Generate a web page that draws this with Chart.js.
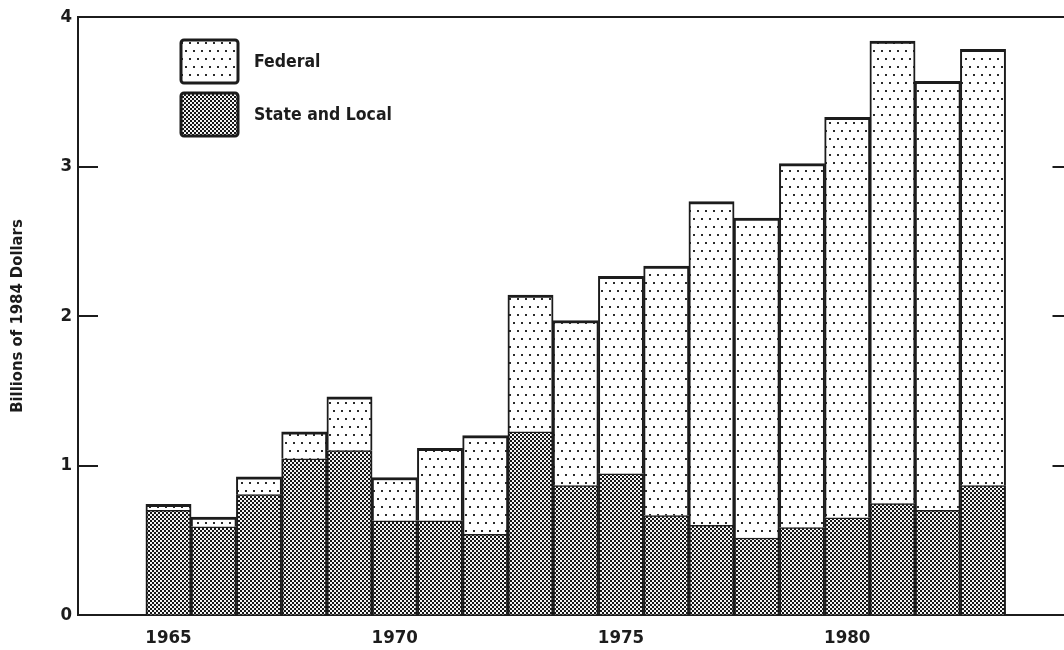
<!DOCTYPE html>
<html><head><meta charset="utf-8">
<script src="https://cdn.jsdelivr.net/npm/chart.js@4.4.1/dist/chart.umd.min.js"></script>
<style>
html,body{margin:0;padding:0;background:#fff;overflow:hidden;width:1064px;height:650px;}
#wrap{position:relative;width:1080px;height:650px;}
canvas{display:block;}
</style></head><body>
<div id="wrap"><canvas id="c" width="1080" height="650" style="width:1080px;height:650px"></canvas></div>
<script>
const years = [1965,1966,1967,1968,1969,1970,1971,1972,1973,1974,1975,1976,1977,1978,1979,1980,1981,1982,1983];
const stateLocal = [0.70,0.59,0.805,1.045,1.10,0.63,0.63,0.54,1.225,0.865,0.945,0.665,0.60,0.515,0.585,0.65,0.745,0.70,0.865];
const federal = [0.04,0.065,0.12,0.18,0.36,0.29,0.485,0.66,0.915,1.105,1.32,1.67,2.165,2.14,2.435,2.68,3.095,2.87,2.92];
const yTicks = [0,1,2,3,4];
const xTickLabels = [1965,1970,1975,1980];
const seriesNames = ['State and Local','Federal'];
const yTitle = 'Billions of 1984 Dollars';

const INK = '#1c1c1c';
const FONT = "'DejaVu Sans Condensed', sans-serif";

function dotPattern(){
  const c = document.createElement('canvas'); c.width = 8; c.height = 16;
  const g = c.getContext('2d');
  g.fillStyle = '#fff'; g.fillRect(0,0,8,16);
  g.fillStyle = '#2a2a2a';
  g.fillRect(1,2,2,2); g.fillRect(5,10,2,2);
  return g.createPattern(c,'repeat');
}
function checkPattern(){
  const c = document.createElement('canvas'); c.width = 4; c.height = 4;
  const g = c.getContext('2d');
  g.fillStyle = '#161616'; g.fillRect(0,0,4,4);
  g.fillStyle = '#f4f4f4';
  g.fillRect(0,0,2,2); g.fillRect(2,2,2,2);
  return g.createPattern(c,'repeat');
}
const fedFill = dotPattern();
const stateFill = checkPattern();

const framePlugin = {
  id: 'frame',
  afterDraw(chart){
    const {ctx, chartArea:a, scales:{y}} = chart;
    ctx.save();
    ctx.strokeStyle = INK; ctx.lineWidth = 2;
    ctx.beginPath();
    ctx.moveTo(a.left-1, a.top); ctx.lineTo(a.right, a.top);
    yTicks.forEach(v => {
      if (v === y.min || v === y.max) return;
      const py = Math.round(y.getPixelForValue(v));
      ctx.moveTo(a.left, py); ctx.lineTo(a.left + 20, py);
      ctx.moveTo(a.right - 21, py); ctx.lineTo(a.right, py);
    });
    ctx.stroke();
    // legend inside plot
    const items = [chart.data.datasets[1], chart.data.datasets[0]];
    const bx = 181, bw = 57, bh = 43;
    const tops = [40, 93];
    items.forEach((ds, i) => {
      const ty = tops[i];
      ctx.fillStyle = ds.backgroundColor;
      ctx.fillRect(bx, ty, bw, bh);
      ctx.lineWidth = 3; ctx.strokeStyle = INK;
      ctx.beginPath();
      ctx.roundRect(bx, ty, bw, bh, 3);
      ctx.stroke();
      ctx.fillStyle = INK;
      ctx.font = "bold 17.5px " + FONT;
      ctx.textBaseline = 'middle';
      ctx.textAlign = 'left';
      ctx.fillText(ds.label, 254, ty + bh/2 + 1);
    });
    ctx.restore();
  }
};

const tickFont = {family: FONT, size: 18.5, weight: 'bold'};

new Chart(document.getElementById('c'), {
  type: 'bar',
  data: {
    datasets: [
      {
        label: seriesNames[0],
        data: years.map((yr,i) => ({x: yr, y: stateLocal[i]})),
        backgroundColor: stateFill,
        borderColor: INK,
        borderWidth: {top: 1.5, left: 2, right: 2, bottom: 0},
        borderSkipped: false,
        barPercentage: 1, categoryPercentage: 1
      },
      {
        label: seriesNames[1],
        data: years.map((yr,i) => ({x: yr, y: federal[i]})),
        backgroundColor: fedFill,
        borderColor: INK,
        borderWidth: {top: 3, left: 2, right: 2, bottom: 0},
        borderSkipped: false,
        barPercentage: 1, categoryPercentage: 1
      }
    ]
  },
  options: {
    responsive: false,
    animation: false,
    layout: {padding: {left: 0, right: 6.5, top: 16, bottom: 0}},
    plugins: {legend: {display: false}, tooltip: {enabled: false}},
    scales: {
      x: {
        type: 'linear', min: 1963, max: 1985, stacked: true, offset: false,
        grid: {drawOnChartArea: false, drawTicks: false},
        border: {display: true, color: INK, width: 2},
        ticks: {font: tickFont, color: INK, padding: 12, maxRotation: 0, autoSkip: false,
                callback: v => String(v)},
        afterBuildTicks: s => { s.ticks = xTickLabels.map(v => ({value: v})); },
        afterFit: s => { s.height = 35; }
      },
      y: {
        type: 'linear', min: 0, max: 4, stacked: true,
        grid: {drawOnChartArea: false, drawTicks: false},
        border: {display: true, color: INK, width: 2},
        ticks: {font: tickFont, color: INK, padding: 6, callback: v => String(v)},
        afterBuildTicks: s => { s.ticks = yTicks.map(v => ({value: v})); },
        title: {display: true, text: yTitle, color: INK,
                font: {family: FONT, size: 16.5, weight: 'bold'}, padding: {top: 8, bottom: 0}},
        afterFit: s => { s.width = 78; }
      }
    }
  },
  plugins: [framePlugin]
});
</script>
</body></html>
